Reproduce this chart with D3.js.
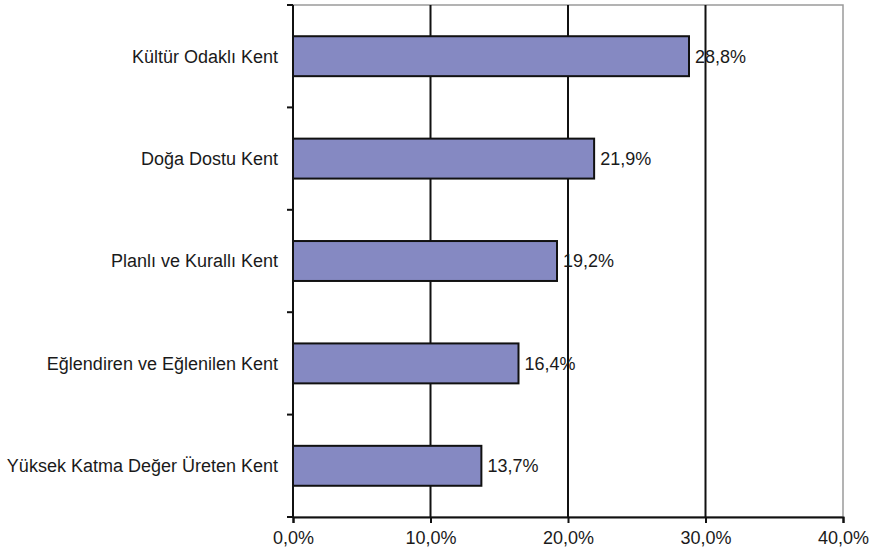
<!DOCTYPE html>
<html>
<head>
<meta charset="utf-8">
<script src="https://cdn.jsdelivr.net/npm/d3@7"></script>
<style>
  body { margin: 0; background: #fff; }
  text { font-family: "Liberation Sans", Arial, sans-serif; fill: #1a1a1a; }
</style>
</head>
<body>
<script>
// Chart data
var categories = ["Kültür Odaklı Kent", "Doğa Dostu Kent", "Planlı ve Kurallı Kent",
  "Eğlendiren ve Eğlenilen Kent", "Yüksek Katma Değer Üreten Kent"];
var values = [28.8, 21.9, 19.2, 16.4, 13.7];
var xTicks = [0, 10, 20, 30, 40];

var svgWidth = 880;
var svgHeight = 552;

var margin = { top: 5, right: 37, bottom: 35, left: 293 };
var chartWidth = svgWidth - margin.left - margin.right;
var chartHeight = svgHeight - margin.top - margin.bottom;

var svg = d3.select("body")
  .append("svg")
  .attr("width", svgWidth)
  .attr("height", svgHeight);

var chartGroup = svg.append("g")
  .attr("transform", `translate(${margin.left}, ${margin.top})`);

var fmt = function(v) { return v.toFixed(1).replace(".", ",") + "%"; };

var xScale = d3.scaleLinear()
  .domain([0, 40])
  .range([0, chartWidth]);

var yScale = d3.scaleBand()
  .domain(categories)
  .range([0, chartHeight])
  .paddingInner(0.61)
  .paddingOuter(0.305);

// plot area border (grey)
chartGroup.append("rect")
  .attr("x", 0).attr("y", 0)
  .attr("width", chartWidth).attr("height", chartHeight)
  .attr("fill", "none")
  .attr("stroke", "#9a9a9a")
  .attr("stroke-width", 1.5);

// vertical gridlines
chartGroup.selectAll(".grid")
  .data(xTicks.filter(d => d > 0 && d < 40))
  .enter()
  .append("line")
  .attr("x1", d => xScale(d)).attr("x2", d => xScale(d))
  .attr("y1", 0).attr("y2", chartHeight)
  .attr("stroke", "#111")
  .attr("stroke-width", 2);

// bars
chartGroup.selectAll(".bar")
  .data(values)
  .enter()
  .append("rect")
  .attr("x", 0)
  .attr("y", (d, i) => yScale(categories[i]))
  .attr("width", d => xScale(d))
  .attr("height", yScale.bandwidth())
  .attr("fill", "#8589c2")
  .attr("stroke", "#111")
  .attr("stroke-width", 2);

// value labels
chartGroup.selectAll(".val")
  .data(values)
  .enter()
  .append("text")
  .attr("x", d => xScale(d) + 6)
  .attr("y", (d, i) => yScale(categories[i]) + yScale.bandwidth() / 2)
  .attr("dy", "0.35em")
  .attr("font-size", 18)
  .text(d => fmt(d));

// left axis with ticks at band boundaries
var yLine = chartGroup.append("g");
yLine.append("line")
  .attr("x1", 0).attr("x2", 0)
  .attr("y1", 0).attr("y2", chartHeight)
  .attr("stroke", "#111").attr("stroke-width", 2);
yLine.selectAll(".ytick")
  .data(d3.range(categories.length + 1))
  .enter()
  .append("line")
  .attr("x1", -6).attr("x2", 0)
  .attr("y1", d => d * yScale.step())
  .attr("y2", d => d * yScale.step())
  .attr("stroke", "#111").attr("stroke-width", 2);

yLine.selectAll(".ylab")
  .data(categories)
  .enter()
  .append("text")
  .attr("x", -15)
  .attr("y", d => yScale(d) + yScale.bandwidth() / 2)
  .attr("dy", "0.35em")
  .attr("text-anchor", "end")
  .attr("font-size", 18)
  .text(d => d);

// bottom axis
var bottomAxis = d3.axisBottom(xScale)
  .tickValues(xTicks)
  .tickSize(6)
  .tickPadding(8)
  .tickFormat(d => fmt(d));

var xAxisG = chartGroup.append("g")
  .attr("transform", `translate(0, ${chartHeight})`)
  .call(bottomAxis);
xAxisG.select(".domain").attr("stroke", "#111").attr("stroke-width", 2);
xAxisG.selectAll(".tick line").attr("stroke", "#111").attr("stroke-width", 2);
xAxisG.selectAll(".tick text")
  .attr("font-size", 18)
  .attr("font-family", "Liberation Sans, Arial, sans-serif")
  .attr("fill", "#1a1a1a");
</script>
</body>
</html>
